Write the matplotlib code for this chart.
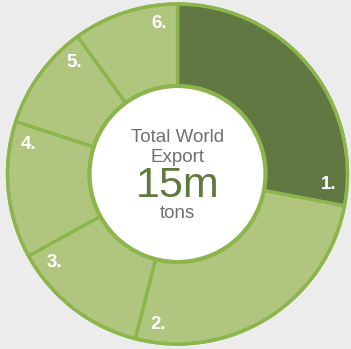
import matplotlib
matplotlib.use("Agg")
import matplotlib.pyplot as plt
import numpy as np

# share of world export per rank (percent)
ranks = ["1.", "2.", "3.", "4.", "5.", "6."]
shares = [28, 26, 13, 13, 10, 10]
total_label = "15m"

BG = "#ececec"
DARK = "#617843"
LIGHT = "#b0c67f"
EDGE = "#8cb54c"
GREY = "#707070"

plt.rcParams["font.family"] = ["Liberation Sans", "DejaVu Sans"]

fig = plt.figure(figsize=(3.51, 3.49), dpi=100, facecolor=BG)
ax = fig.add_axes([0, 0, 1, 1])
ax.set_facecolor(BG)

cx, cy = 177.5, 175
r_out, r_in = 170, 88
colors = [DARK] + [LIGHT] * (len(shares) - 1)

ax.pie(shares, radius=r_out, center=(cx, cy), startangle=90, counterclock=False,
       colors=colors, frame=True,
       wedgeprops=dict(width=r_out - r_in, edgecolor=EDGE, linewidth=2.4))
ax.add_patch(plt.Circle((cx, cy), r_out, fill=False, edgecolor=EDGE, linewidth=2.4, zorder=3))
ax.add_patch(plt.Circle((cx, cy), r_in, facecolor="white", edgecolor=EDGE, linewidth=3.0, zorder=3))

# rank labels sit near the clockwise end of each wedge
ends = 90 - 360 * np.cumsum(shares) / sum(shares)
for label, end in zip(ranks, ends):
    a = np.deg2rad(end + 7)
    ax.text(cx + 152 * np.cos(a), cy + 152 * np.sin(a), label, color="white",
            fontsize=13.5, fontweight="bold", ha="center", va="center", zorder=4)

ax.text(cx, 349 - 137, "Total World", color=GREY, fontsize=13.5, ha="center", va="center", zorder=4)
ax.text(cx, 349 - 157, "Export", color=GREY, fontsize=13.5, ha="center", va="center", zorder=4)
ax.text(cx, 349 - 186, total_label, color="#5e7a3e", fontsize=31, ha="center", va="center", zorder=4)
ax.text(cx, 349 - 213, "tons", color=GREY, fontsize=13.5, ha="center", va="center", zorder=4)

ax.set_xlim(0, 351)
ax.set_ylim(0, 349)
ax.set_aspect("equal")
ax.axis("off")

fig.savefig("out.png", dpi=100, facecolor=BG)
